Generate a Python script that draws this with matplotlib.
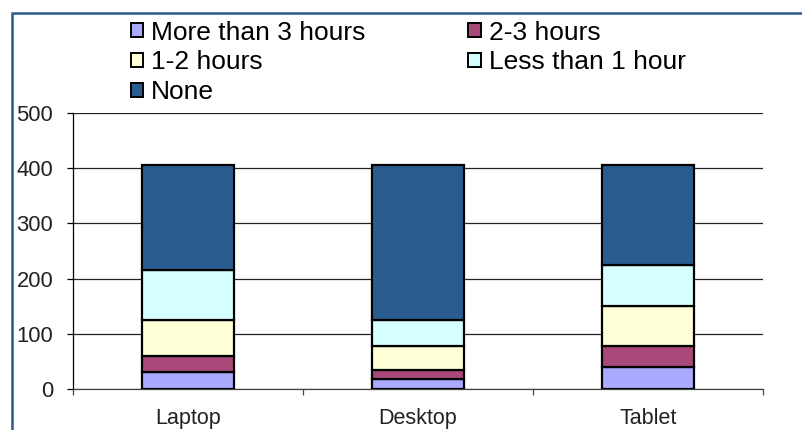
import matplotlib
matplotlib.use("Agg")
import matplotlib.pyplot as plt
from matplotlib.patches import Rectangle, Patch
import numpy as np

plt.rcParams['font.family'] = ['Liberation Sans', 'DejaVu Sans']

devices = ["Laptop", "Desktop", "Tablet"]
series_names = ["More than 3 hours", "2-3 hours", "1-2 hours", "Less than 1 hour", "None"]
more_than_3 = [30, 18, 40]
two_to_3 = [29, 16, 37]
one_to_2 = [66, 43, 74]
less_than_1 = [90, 48, 73]
none = [190, 280, 181]
y_ticks = [0, 100, 200, 300, 400, 500]

colors = ["#aaaaff", "#a8497a", "#ffffd8", "#d6ffff", "#2a5d8f"]

W, H = 803, 430
fig = plt.figure(figsize=(W / 100, H / 100), dpi=100)
ax = fig.add_axes([73 / W, 1 - 389 / H, (763 - 73) / W, (389 - 113) / H])

x = np.arange(len(devices))
bottom = np.zeros(len(devices))
handles = []
for name, vals, col in zip(series_names,
                           [more_than_3, two_to_3, one_to_2, less_than_1, none],
                           colors):
    ax.bar(x, vals, width=0.4, bottom=bottom, color=col,
           edgecolor="black", linewidth=1.6, zorder=3)
    bottom += np.array(vals)
    handles.append(Patch(facecolor=col, edgecolor="black", linewidth=1.4, label=name))

ax.set_xlim(-0.5, len(devices) - 0.5)
ax.set_ylim(0, 500)
ax.set_yticks(y_ticks)
ax.set_yticklabels([str(v) for v in y_ticks])
ax.yaxis.grid(True, color="#222222", linewidth=0.9, zorder=0)
ax.set_axisbelow(True)

ax.set_xticks(x)
ax.set_xticklabels(devices)
ax.set_xticks(np.arange(-0.5, len(devices), 1.0), minor=True)
ax.tick_params(axis="x", which="major", length=0, pad=14, labelsize=15.5, labelcolor="#222222")
ax.tick_params(axis="x", which="minor", length=4, width=0.9, direction="out", color="#444444")
ax.tick_params(axis="y", length=4.3, width=0.9, pad=10, labelsize=15.8, labelcolor="#222222")

for side in ("top", "right"):
    ax.spines[side].set_visible(False)
ax.spines["left"].set_linewidth(0.9)
ax.spines["bottom"].set_linewidth(0.9)
ax.spines["bottom"].set_color("#444444")

# legend: two columns, filled row by row
order = [0, 2, 4, 1, 3]
leg = fig.legend([handles[i] for i in order], [series_names[i] for i in order],
                 ncol=2, loc="upper left",
                 bbox_to_anchor=(120 / W, 1 - 10 / H),
                 frameon=False, fontsize=19,
                 handlelength=0.46, handleheight=0.46, handletextpad=0.32,
                 columnspacing=3.9, labelspacing=0.22, borderaxespad=0)

# outer frame line along the top and left edges
fig.add_artist(Rectangle((12 / W, -0.1), 1.1, 1.1 - 13 / H,
                         transform=fig.transFigure, fill=False,
                         edgecolor="#2a5b8c", linewidth=1.8))

fig.savefig("out.png", dpi=100)
